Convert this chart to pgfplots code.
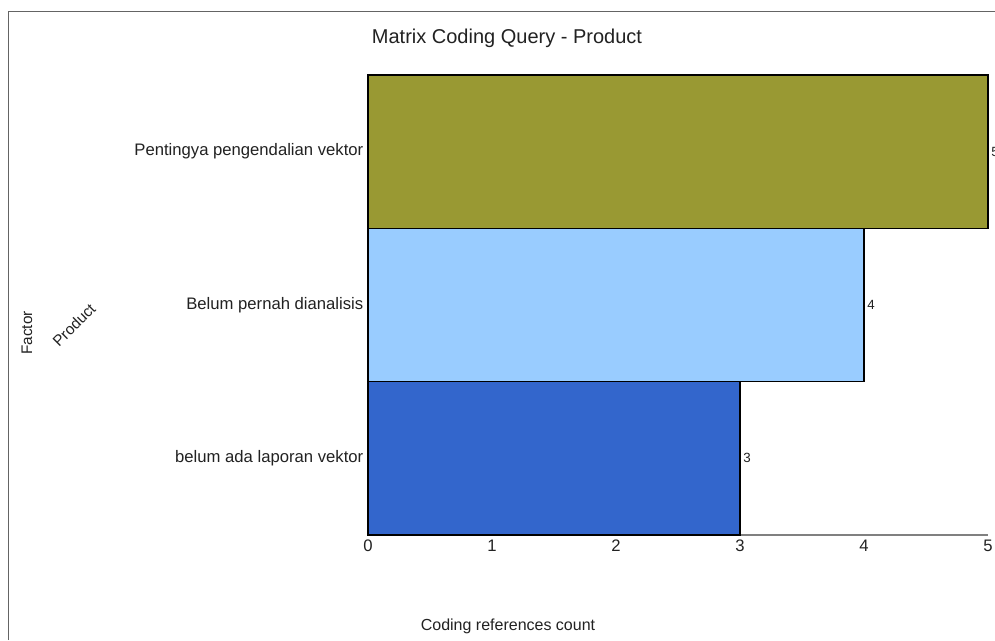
\documentclass[border=0pt]{standalone}
\usepackage{pgfplots}
\pgfplotsset{compat=1.18}
\usepackage{fontspec}
\setmainfont{Liberation Sans}

\definecolor{olivebar}{RGB}{153,153,51}
\definecolor{skybar}{RGB}{153,204,255}
\definecolor{bluebar}{RGB}{51,102,204}
\definecolor{txt}{RGB}{34,34,34}
\definecolor{framegray}{RGB}{100,100,100}
\definecolor{axisgray}{RGB}{128,128,128}

\begin{document}
\begin{tikzpicture}[x=0.75pt,y=-0.75pt]
% page: 995 x 640 units
\useasboundingbox (0,0) rectangle (995,640);
\fill[white] (0,0) rectangle (995,640);
% outer frame (left and top edges)
\draw[framegray, line width=0.9pt] (8.5,640) -- (8.5,11.5) -- (995,11.5);

% title
\node[txt, font=\fontsize{15}{18}\selectfont, anchor=base] at (507,43) {Matrix Coding Query - Product};

% axis titles
\node[txt, font=\fontsize{11.5}{14}\selectfont, rotate=90, inner sep=1pt] at (27,333) {Factor};
\node[txt, font=\fontsize{11.5}{14}\selectfont, rotate=45, inner sep=1pt] at (74,325) {Product};
\node[txt, font=\fontsize{12}{14}\selectfont, anchor=base] at (508,630) {Coding references count};

\begin{axis}[
  at={(276pt,-401.25pt)}, anchor=south west,
  scale only axis, width=465pt, height=345pt,
  xbar, bar width=1, bar shift=0pt,
  xmin=0, xmax=5, ymin=-0.5, ymax=2.5,
  clip=false,
  axis x line*=bottom, axis y line*=left,
  x axis line style={axisgray, line width=1.2pt, -},
  y axis line style={draw=none},
  major tick length=0pt,
  xtick={0,1,2,3,4,5},
  ytick={0,1,2},
  yticklabels={belum ada laporan vektor, Belum pernah dianalisis, Pentingya pengendalian vektor},
  tick label style={txt, font=\fontsize{12.5}{15}\selectfont},
  /pgf/number format/assume math mode=true,
  nodes near coords,
  nodes near coords style={txt, font=\fontsize{10}{12}\selectfont, anchor=west, inner sep=2pt},
  every axis plot/.append style={draw=black, line width=0.9pt},
]
\addplot[fill=bluebar] coordinates {(3,0)};
\addplot[fill=skybar] coordinates {(4,1)};
\addplot[fill=olivebar] coordinates {(5,2)};
\end{axis}
\end{tikzpicture}
\end{document}
